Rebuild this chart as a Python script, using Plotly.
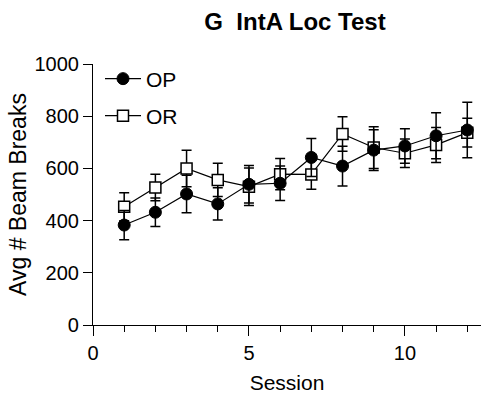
import plotly.graph_objects as go

sessions = [1, 2, 3, 4, 5, 6, 7, 8, 9, 10, 11, 12]
op_mean = [383, 432, 502, 464, 539, 543, 642, 609, 670, 686, 725, 747]
op_sem = [56, 55, 72, 62, 72, 66, 73, 76, 78, 66, 88, 106]
or_mean = [453, 527, 600, 556, 530, 578, 577, 732, 680, 658, 690, 737]
or_sem = [54, 51, 70, 64, 72, 60, 57, 66, 80, 55, 67, 55]

FONT = "Liberation Sans, Arial, sans-serif"
W, H = 483, 394
L, R, T, B = 93, 2, 64, 69

fig = go.Figure()
fig.add_trace(go.Scatter(
    x=sessions, y=or_mean, name="OR", mode="lines+markers",
    line=dict(color="black", width=1.2),
    marker=dict(symbol="square", size=11, color="white", line=dict(color="black", width=1.5)),
    error_y=dict(type="data", array=or_sem, color="black", thickness=1.5, width=5),
    legend="legend2",
))
fig.add_trace(go.Scatter(
    x=sessions, y=op_mean, name="OP", mode="lines+markers",
    line=dict(color="black", width=1.2),
    marker=dict(symbol="circle", size=12, color="black", line=dict(color="black", width=1)),
    error_y=dict(type="data", array=op_sem, color="black", thickness=1.5, width=5),
    legend="legend",
))

pw = W - L - R
ph = H - T - B
def px_x(p):
    return (p - L) / pw
def px_y(p):
    return 1 - (p - T) / ph

fig.update_layout(
    width=W, height=H,
    margin=dict(l=L, r=R, t=T, b=B),
    paper_bgcolor="white", plot_bgcolor="white",
    font=dict(family=FONT, color="black", size=20),
    title=dict(text="<b>G\u00a0\u00a0IntA Loc Test</b>", x=px_x(295), xref="paper", xanchor="center",
               y=1 - 22 / H, yref="container", yanchor="middle",
               font=dict(size=24, family=FONT, color="black")),
    legend=dict(x=px_x(100), y=px_y(79), xanchor="left", yanchor="middle", itemwidth=36,
                bgcolor="rgba(0,0,0,0)", font=dict(size=21, family=FONT)),
    legend2=dict(x=px_x(100), y=px_y(116), xanchor="left", yanchor="middle", itemwidth=36,
                 bgcolor="rgba(0,0,0,0)", font=dict(size=21, family=FONT)),
    showlegend=True,
)
fig.update_xaxes(
    range=[0, 12.44], tickvals=[0, 5, 10], ticks="outside", ticklen=10, tickwidth=1.2,
    tickcolor="black", showline=True, linecolor="black", linewidth=1.2,
    showgrid=False, zeroline=False, tickfont=dict(size=20),
    minor=dict(tickvals=[1, 2, 3, 4, 6, 7, 8, 9, 11, 12], ticks="outside", ticklen=6,
               tickwidth=1.2, tickcolor="black", showgrid=False),
    title=dict(text="Session", font=dict(size=21), standoff=13),
)
fig.update_yaxes(
    range=[0, 1000], tickvals=[0, 200, 400, 600, 800, 1000], ticks="outside", ticklen=9,
    tickwidth=1.2, tickcolor="black", showline=True, linecolor="black", linewidth=1.2,
    showgrid=False, zeroline=False, tickfont=dict(size=20),
    title=dict(text="Avg # Beam Breaks", font=dict(size=23), standoff=1),
)

fig.write_html("out.html")
